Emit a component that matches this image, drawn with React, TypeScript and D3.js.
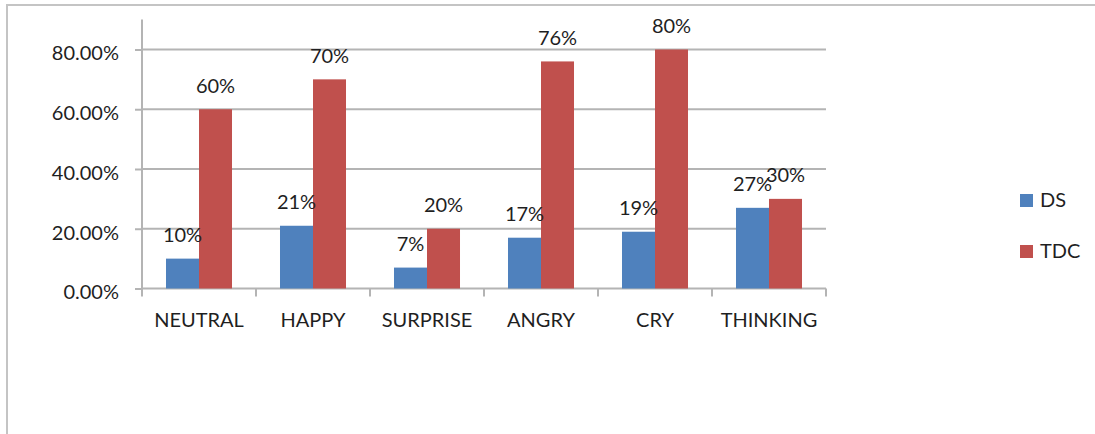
import React, { useEffect, useRef } from "react";
import * as d3 from "d3";

// Share of correct expression recognition per group
const categories = ["NEUTRAL", "HAPPY", "SURPRISE", "ANGRY", "CRY", "THINKING"];
const seriesNames = ["DS", "TDC"];
const dsValues = [0.10, 0.21, 0.07, 0.17, 0.19, 0.27];
const tdcValues = [0.60, 0.70, 0.20, 0.76, 0.80, 0.30];
const yTicks = [0, 0.2, 0.4, 0.6, 0.8];
const colors = ["#4f81bd", "#c0504d"];

const W = 1095;
const H = 434;
const plot = { left: 142, right: 826, top: 19.6, bottom: 288.5 };
const FONT = "Lato, 'Open Sans', sans-serif";
const TEXT = "#1f1f1f";
const GRID = "#b4b4b4";

export default function App() {
  const yAxisRef = useRef<SVGGElement>(null);
  const xAxisRef = useRef<SVGGElement>(null);

  const x0 = d3.scaleBand<string>().domain(categories).range([plot.left, plot.right]).padding(0);
  const x1 = d3
    .scaleBand<string>()
    .domain(seriesNames)
    .range([0, x0.bandwidth()])
    .paddingInner(0)
    .paddingOuter(0.727);
  const y = d3.scaleLinear().domain([0, 0.9]).range([plot.bottom, plot.top]);

  const series = [dsValues, tdcValues];
  const pct = d3.format(".0%");

  useEffect(() => {
    if (yAxisRef.current) {
      const g = d3.select(yAxisRef.current);
      g.selectAll("*").remove();
      g.call(
        d3
          .axisLeft(y)
          .tickValues(yTicks)
          .tickFormat(d3.format(".2%") as any)
          .tickSize(7)
          .tickPadding(16)
      );
      g.select(".domain").remove();
      g.selectAll(".tick line").attr("stroke", GRID).attr("stroke-width", 2);
      g.selectAll<SVGTextElement, number>(".tick text")
        .attr("fill", TEXT)
        .attr("font-family", FONT)
        .attr("font-size", 20)
        .attr("dy", "0.52em")
        .each(function () {
          // keep the percentage labels compact
          const w = this.getComputedTextLength();
          const target = this.textContent && this.textContent.length > 5 ? 70 : 0;
          if (target && w > target) {
            this.setAttribute("textLength", String(target));
            this.setAttribute("lengthAdjust", "spacingAndGlyphs");
          }
        });
    }
    if (xAxisRef.current) {
      const g = d3.select(xAxisRef.current);
      g.selectAll("*").remove();
      g.call(d3.axisBottom(x0).tickSize(0).tickPadding(24));
      g.select(".domain").remove();
      g.selectAll(".tick text")
        .attr("fill", TEXT)
        .attr("font-family", FONT)
        .attr("font-size", 20);
    }
  });

  const boundaries = [...categories.map((c) => x0(c) as number), plot.right];

  return (
    <svg
      width={W}
      height={H}
      viewBox={`0 0 ${W} ${H}`}
      style={{ position: "absolute", left: 0, top: 0, background: "#fff" }}
    >
      {/* chart frame */}
      <path d={`M7,${H} V5 H${W}`} fill="none" stroke="#c4c4c4" strokeWidth={2} />

      {/* horizontal gridlines */}
      {yTicks.map((t) => (
        <line key={t} x1={plot.left} x2={plot.right} y1={y(t)} y2={y(t)} stroke={GRID} strokeWidth={2} />
      ))}

      {/* value axis line */}
      <line x1={plot.left} x2={plot.left} y1={plot.top} y2={plot.bottom} stroke={GRID} strokeWidth={2} />

      {/* category tick marks */}
      {boundaries.map((bx, i) => (
        <line key={i} x1={bx} x2={bx} y1={plot.bottom} y2={plot.bottom + 8} stroke={GRID} strokeWidth={2} />
      ))}

      <g ref={yAxisRef} transform={`translate(${plot.left},0)`} />
      <g ref={xAxisRef} transform={`translate(0,${plot.bottom})`} />

      {/* bars */}
      {categories.map((c, ci) => (
        <g key={c} transform={`translate(${x0(c)},0)`}>
          {seriesNames.map((s, si) => {
            const v = series[si][ci];
            return (
              <rect
                key={s}
                x={x1(s)}
                y={y(v)}
                width={x1.bandwidth()}
                height={y(0) - y(v)}
                fill={colors[si]}
              />
            );
          })}
        </g>
      ))}

      {/* data labels */}
      {categories.map((c, ci) =>
        seriesNames.map((s, si) => {
          const v = series[si][ci];
          return (
            <text
              key={c + s}
              x={(x0(c) as number) + (x1(s) as number) + x1.bandwidth() / 2}
              y={y(v) - 16.5}
              textAnchor="middle"
              fontFamily={FONT}
              fontSize={20}
              fill={TEXT}
            >
              {pct(v)}
            </text>
          );
        })
      )}

      {/* legend */}
      {seriesNames.map((s, i) => (
        <g key={s} transform={`translate(1020,${194 + i * 51})`}>
          <rect width={13} height={13} fill={colors[i]} />
          <text x={20} y={13} fontFamily={FONT} fontSize={20} fill={TEXT}>
            {s}
          </text>
        </g>
      ))}
    </svg>
  );
}
